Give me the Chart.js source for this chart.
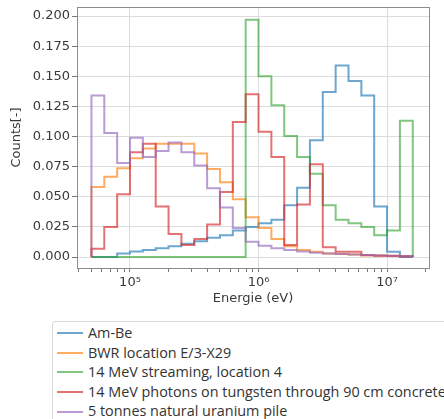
<!DOCTYPE html>
<html>
<head>
<meta charset="utf-8">
<script src="https://cdn.jsdelivr.net/npm/chart.js@4"></script>
<style>
  body { margin: 0; background: #fff; }
  #wrap { position: relative; width: 444px; height: 419px; overflow: hidden; }
  #myChart { position: absolute; left: 0; top: 0; }
  #legend {
    position: absolute; left: 52px; top: 321px; width: 430px;
    border: 1px solid #d8d8d8; border-radius: 3px;
    padding: 1px 0 0 4px; font-family: "Open Sans", sans-serif; font-size: 14.4px;
    color: #333; line-height: 19.6px;
  }
  #legend .sw { display: inline-block; width: 26px; height: 2px; margin-right: 5px; vertical-align: middle; position: relative; top: -1px; }
  #legend div { white-space: nowrap; }
</style>
</head>
<body>
<div id="wrap">
  <canvas id="myChart" width="444" height="310"></canvas>
  <div id="legend"></div>
</div>
<script>
// bin edges (eV), 10 bins per decade
const binEdges = [50119, 63096, 79433, 100000, 125893, 158489, 199526, 251189, 316228, 398107,
  501187, 630957, 794328, 1000000, 1258925, 1584893, 1995262, 2511886, 3162278, 3981072,
  5011872, 6309573, 7943282, 10000000, 12589254, 15848932];

const seriesNames = ['Am-Be', 'BWR location E/3-X29', '14 MeV streaming, location 4',
  '14 MeV photons on tungsten through 90 cm concrete', '5 tonnes natural uranium pile'];

const amBe = [0, 0, 0.003, 0.0045, 0.0058, 0.0072, 0.009, 0.011, 0.013, 0.016, 0.018, 0.022, 0.025,
  0.028, 0.031, 0.043, 0.0575, 0.097, 0.137, 0.159, 0.146, 0.134, 0.042, 0.0044, 0];
const bwr = [0.058, 0.0666, 0.0736, 0.082, 0.090, 0.094, 0.094, 0.094, 0.086, 0.073, 0.062, 0.048, 0.033,
  0.024, 0.015, 0.009, 0.0058, 0.0044, 0.003, 0.0025, 0.002, 0.0015, 0.0012, 0.001, 0.0008];
const streaming = [0, 0, 0, 0, 0, 0, 0, 0, 0, 0, 0, 0, 0.197,
  0.150, 0.126, 0.1005, 0.083, 0.069, 0.043, 0.031, 0.028, 0.025, 0.018, 0.022, 0.113];
const tungsten = [0.0068, 0.025, 0.052, 0.087, 0.094, 0.042, 0.019, 0.010, 0.015, 0.027, 0.054, 0.112, 0.135,
  0.104, 0.083, 0.010, 0.0435, 0.077, 0.008, 0.0044, 0.0044, 0.0015, 0.001, 0.0008, 0.0005];
const uranium = [0.134, 0.103, 0.078, 0.099, 0.083, 0.088, 0.095, 0.087, 0.076, 0.057, 0.041, 0.024, 0.0127,
  0.0094, 0.0072, 0.0058, 0.0045, 0.0036, 0.003, 0.0025, 0.002, 0.0016, 0.0013, 0.001, 0.0008];

const colors = ['rgba(31,119,180,0.65)', 'rgba(255,127,14,0.65)', 'rgba(44,160,44,0.6)',
  'rgba(214,39,40,0.65)', 'rgba(148,103,189,0.65)'];

const xMajor = [1e5, 1e6, 1e7];
const yTicks = [0, 0.025, 0.05, 0.075, 0.1, 0.125, 0.15, 0.175, 0.2];

// minor log ticks 2..9 per decade
const xTicks = [];
[1e4, 1e5, 1e6, 1e7].forEach(d => {
  for (let m = 1; m <= 9; m++) {
    const v = d * m;
    if (v >= 38700 && v <= 2.12e7) xTicks.push(v);
  }
});

function steps(values) {
  const pts = [{x: binEdges[0], y: 0}];
  values.forEach((v, i) => pts.push({x: binEdges[i], y: v}));
  pts.push({x: binEdges[binEdges.length - 1], y: 0});
  return pts;
}

const allSeries = [amBe, bwr, streaming, tungsten, uranium];

const frame = {
  id: 'frame',
  afterDraw(chart) {
    const a = chart.chartArea, c = chart.ctx;
    c.save();
    c.strokeStyle = '#8c8c8c';
    c.lineWidth = 1;
    c.strokeRect(Math.round(a.left) + 0.5, Math.round(a.top) + 0.5,
      Math.round(a.right - a.left), Math.round(a.bottom - a.top));
    c.restore();
  }
};

const font = {family: 'DejaVu Sans', size: 13};
const ctx = document.getElementById('myChart').getContext('2d');
const myChart = new Chart(ctx, {
  type: 'line',
  data: {
    datasets: allSeries.map((s, i) => ({
      label: seriesNames[i],
      data: steps(s),
      borderColor: colors[i],
      backgroundColor: colors[i],
      borderWidth: 2,
      pointRadius: 0,
      stepped: 'before',
      fill: false,
      order: 5 - i
    }))
  },
  options: {
    responsive: false,
    animation: false,
    devicePixelRatio: 1,
    layout: {padding: {top: 7, right: 15, left: 0, bottom: 0}},
    plugins: {legend: {display: false}, tooltip: {enabled: false}},
    scales: {
      x: {
        type: 'logarithmic',
        min: 38700,
        max: 2.12e7,
        afterBuildTicks: (scale) => { scale.ticks = xTicks.map(v => ({value: v})); },
        afterFit: (scale) => { scale.height = 42; },
        grid: {
          color: (c) => xMajor.includes(c.tick.value) ? '#dcdcdc' : 'rgba(0,0,0,0)',
          tickColor: '#777',
          tickLength: 4
        },
        border: {display: false},
        ticks: {
          autoSkip: false, maxRotation: 0, padding: 3, color: '#3a3a3a', font: font,
          callback: (v) => ({1e5: '10⁵', 1e6: '10⁶', 1e7: '10⁷'})[v] || ''
        },
        title: {display: true, text: 'Energie (eV)', color: '#3a3a3a', font: font, padding: 4}
      },
      y: {
        min: -0.00913,
        max: 0.2075,
        afterBuildTicks: (scale) => { scale.ticks = yTicks.map(v => ({value: v})); },
        afterFit: (scale) => { scale.width = 77; scale.paddingTop = 0; scale.paddingBottom = 0; },
        grid: {color: '#dcdcdc', tickColor: '#777', tickLength: 5},
        border: {display: false},
        ticks: {padding: 2, color: '#3a3a3a', font: font, callback: (v) => v.toFixed(3)},
        title: {display: true, text: 'Counts[-]', color: '#3a3a3a', font: font, padding: 9}
      }
    }
  },
  plugins: [frame]
});

// legend below the chart
const legend = document.getElementById('legend');
seriesNames.forEach((name, i) => {
  const row = document.createElement('div');
  const sw = document.createElement('span');
  sw.className = 'sw';
  sw.style.background = colors[i];
  row.appendChild(sw);
  row.appendChild(document.createTextNode(name));
  legend.appendChild(row);
});
</script>
</body>
</html>
